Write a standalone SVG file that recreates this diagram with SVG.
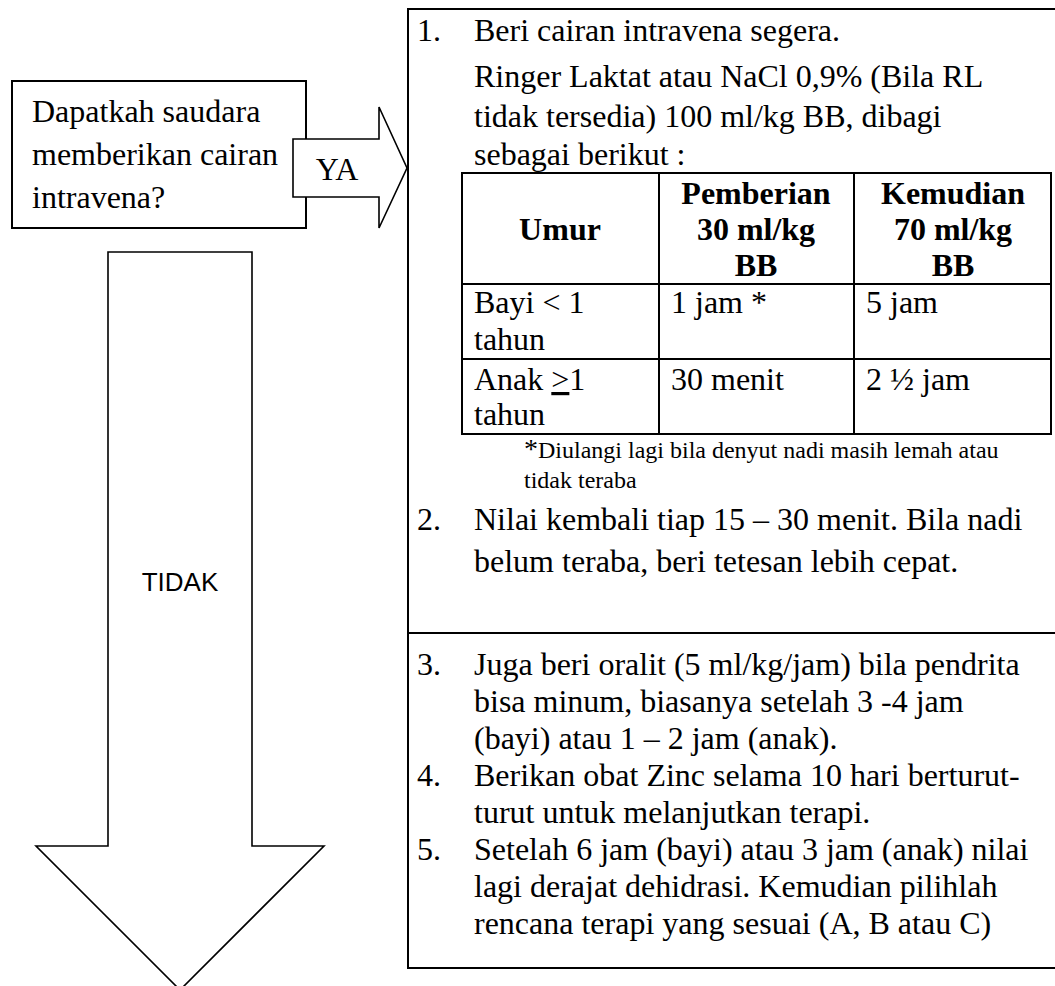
<svg xmlns="http://www.w3.org/2000/svg" width="1055" height="986" viewBox="0 0 1055 986">
<style>
.bx{fill:#fff;stroke:#000;stroke-width:2}
.ar{fill:#fff;stroke:#000;stroke-width:1.6;stroke-linejoin:miter}
.tl{fill:none;stroke:#000;stroke-width:2}
.t{font-family:"Liberation Serif","Times New Roman",serif;font-size:32px;fill:#000}
.b{font-family:"Liberation Serif","Times New Roman",serif;font-size:32px;font-weight:bold;fill:#000;text-anchor:middle}
.fn{font-family:"Liberation Serif","Times New Roman",serif;font-size:24px;fill:#000}
.s{font-family:"Liberation Sans",Arial,sans-serif;font-size:26px;fill:#000;text-anchor:middle}
</style>
<rect width="1055" height="986" fill="#fff"/>
<g id="box-steps">
<rect class="bx" x="408" y="9" width="720" height="959"/>
<line class="tl" x1="408" y1="633" x2="1060" y2="633"/>
<text class="t" x="417" y="41">1.</text>
<text class="t" x="474" y="41">Beri cairan intravena segera.</text>
<text class="t" x="474" y="87">Ringer Laktat atau NaCl 0,9% (Bila RL</text>
<text class="t" x="474" y="127">tidak tersedia) 100 ml/kg BB, dibagi</text>
<text class="t" x="474" y="165">sebagai berikut :</text>
<g id="table">
<rect class="tl" x="462" y="173" width="589" height="261"/>
<line class="tl" x1="659" y1="173" x2="659" y2="434"/>
<line class="tl" x1="854" y1="173" x2="854" y2="434"/>
<line class="tl" x1="462" y1="284" x2="1051" y2="284"/>
<line class="tl" x1="462" y1="359" x2="1051" y2="359"/>
<text class="b" x="560" y="240">Umur</text>
<text class="b" x="756" y="204">Pemberian</text>
<text class="b" x="756" y="240">30 ml/kg</text>
<text class="b" x="756" y="276">BB</text>
<text class="b" x="953" y="204">Kemudian</text>
<text class="b" x="953" y="240">70 ml/kg</text>
<text class="b" x="953" y="276">BB</text>
<text class="t" x="474" y="313">Bayi &lt; 1</text>
<text class="t" x="474" y="350">tahun</text>
<text class="t" x="671" y="313">1 jam *</text>
<text class="t" x="866" y="313">5 jam</text>
<text class="t" x="474" y="390">Anak <tspan text-decoration="underline">&gt;</tspan>1</text>
<text class="t" x="474" y="425">tahun</text>
<text class="t" x="671" y="390">30 menit</text>
<text class="t" x="866" y="390">2 ½ jam</text>
</g>
<text class="fn" x="524" y="458"><tspan font-size="28">*</tspan>Diulangi lagi bila denyut nadi masih lemah atau</text>
<text class="fn" x="524" y="488">tidak teraba</text>
<text class="t" x="417" y="530">2.</text>
<text class="t" x="474" y="530">Nilai kembali tiap 15 – 30 menit. Bila nadi</text>
<text class="t" x="474" y="572">belum teraba, beri tetesan lebih cepat.</text>
<text class="t" x="417" y="675">3.</text>
<text class="t" x="474" y="675">Juga beri oralit (5 ml/kg/jam) bila pendrita</text>
<text class="t" x="474" y="712">bisa minum, biasanya setelah 3 -4 jam</text>
<text class="t" x="474" y="749">(bayi) atau 1 – 2 jam (anak).</text>
<text class="t" x="417" y="786">4.</text>
<text class="t" x="474" y="786">Berikan obat Zinc selama 10 hari berturut-</text>
<text class="t" x="474" y="823">turut untuk melanjutkan terapi.</text>
<text class="t" x="417" y="860">5.</text>
<text class="t" x="474" y="860">Setelah 6 jam (bayi) atau 3 jam (anak) nilai</text>
<text class="t" x="474" y="897">lagi derajat dehidrasi. Kemudian pilihlah</text>
<text class="t" x="474" y="934">rencana terapi yang sesuai (A, B atau C)</text>
</g>
<g id="box-question">
<rect class="bx" x="12" y="81" width="294" height="147"/>
<text class="t" x="32" y="122">Dapatkah saudara</text>
<text class="t" x="32" y="165">memberikan cairan</text>
<text class="t" x="32" y="208">intravena?</text>
</g>
<g id="connectors">
<g id="arrow-tidak">
<polygon class="ar" points="108,252 252,252 252,846 324,846 180,990 36,846 108,846"/>
<text class="s" x="180" y="591">TIDAK</text>
</g>
<g id="arrow-ya">
<polygon class="ar" points="293,139 379,139 379,107 407,168 379,228 379,197 293,197"/>
<text class="t" x="337" y="180" text-anchor="middle">YA</text>
</g>
</g>
</svg>
